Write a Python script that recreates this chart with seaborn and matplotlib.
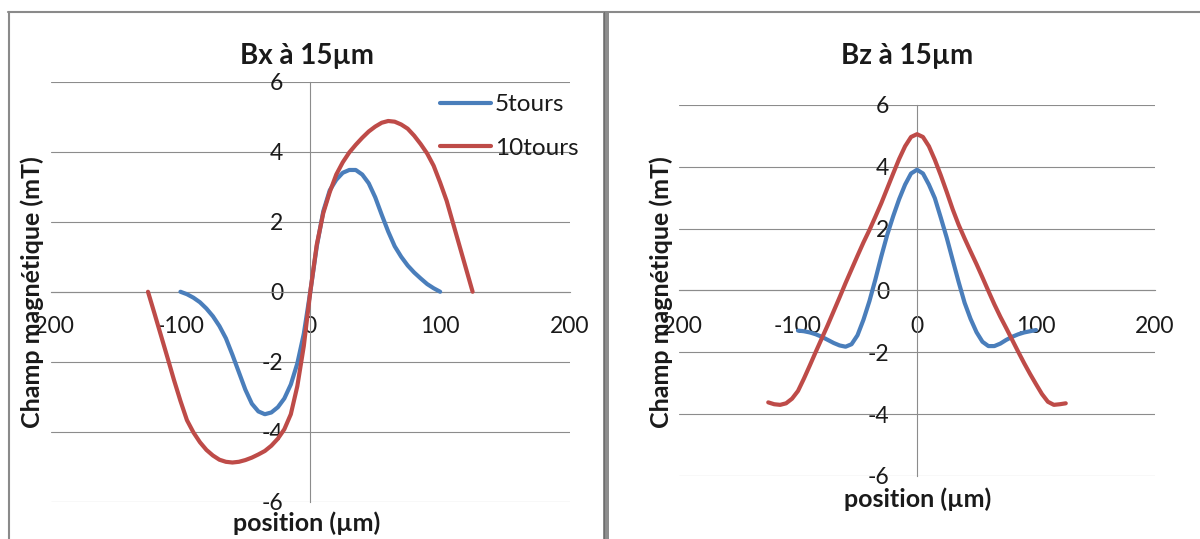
import matplotlib
matplotlib.use("Agg")
import matplotlib.pyplot as plt
import seaborn as sns
import pandas as pd
from matplotlib.lines import Line2D
from matplotlib.patches import Rectangle

# ---- data: field profiles at 15 µm above the coil -------------------------
series_names = ["5tours", "10tours"]

pos_5 = [-100, -95, -90, -85, -80, -75, -70, -65, -60, -55, -50, -45, -40,
         -35, -30, -25, -20, -15, -10, -5, 0, 5, 10, 15, 20, 25, 30, 35, 40,
         45, 50, 55, 60, 65, 70, 75, 80, 85, 90, 95, 100]
pos_10 = [-125, -120, -115, -110, -105, -100, -95, -90, -85, -80, -75, -70,
          -65, -60, -55, -50, -45, -40, -35, -30, -25, -20, -15, -10, -5, 0,
          5, 10, 15, 20, 25, 30, 35, 40, 45, 50, 55, 60, 65, 70, 75, 80, 85,
          90, 95, 100, 105, 110, 115, 120, 125]

bx_5 = [0.0, -0.07, -0.17, -0.30, -0.48, -0.70, -0.98, -1.33, -1.80, -2.30,
        -2.80, -3.20, -3.42, -3.50, -3.45, -3.30, -3.05, -2.65, -2.05, -1.20,
        0.0, 1.30, 2.30, 2.90, 3.20, 3.40, 3.48, 3.48, 3.35, 3.10, 2.70, 2.20,
        1.72, 1.30, 1.00, 0.75, 0.55, 0.38, 0.22, 0.10, 0.0]
bx_10 = [0.0, -0.62, -1.25, -1.88, -2.52, -3.12, -3.67, -4.02, -4.30, -4.52,
         -4.68, -4.80, -4.86, -4.88, -4.86, -4.81, -4.74, -4.65, -4.55, -4.40,
         -4.20, -3.93, -3.50, -2.70, -1.55, 0.0, 1.35, 2.25, 2.85, 3.35, 3.70,
         3.98, 4.20, 4.40, 4.58, 4.72, 4.83, 4.88, 4.86, 4.78, 4.66, 4.46,
         4.22, 3.95, 3.60, 3.12, 2.60, 1.95, 1.30, 0.65, 0.0]

bz_5 = [-1.30, -1.32, -1.36, -1.42, -1.50, -1.60, -1.70, -1.78, -1.82, -1.74,
        -1.45, -0.95, -0.35, 0.35, 1.10, 1.80, 2.40, 2.95, 3.42, 3.78, 3.90,
        3.78, 3.42, 2.98, 2.35, 1.70, 0.98, 0.27, -0.40, -0.92, -1.35, -1.66,
        -1.80, -1.80, -1.72, -1.60, -1.50, -1.42, -1.36, -1.32, -1.28]
bz_10 = [-3.62, -3.68, -3.70, -3.65, -3.50, -3.25, -2.85, -2.42, -1.98, -1.55,
         -1.12, -0.67, -0.22, 0.24, 0.68, 1.12, 1.55, 1.95, 2.38, 2.82, 3.30,
         3.78, 4.25, 4.66, 4.96, 5.05, 4.96, 4.66, 4.22, 3.72, 3.18, 2.62,
         2.12, 1.68, 1.26, 0.85, 0.42, -0.02, -0.45, -0.85, -1.22, -1.60,
         -1.98, -2.35, -2.70, -3.03, -3.35, -3.60, -3.70, -3.68, -3.65]

x_ticks = [-200, -100, 0, 100, 200]
x_tick_labels = ["-200", "-100", "0", "100", "200"]
y_ticks = [-6, -4, -2, 0, 2, 4, 6]
y_tick_labels = ["-6", "-4", "-2", "0", "2", "4", "6"]

titles = ["Bx à 15µm", "Bz à 15µm"]
x_label = "position (µm)"
y_label = "Champ magnétique (mT)"


def long_table(values_5, values_10):
    return pd.DataFrame({
        "position": pos_5 + pos_10,
        "champ": values_5 + values_10,
        "série": [series_names[0]] * len(pos_5) + [series_names[1]] * len(pos_10),
    })


# ---- style ------------------------------------------------------------------
sns.set_theme(style="white")
plt.rcParams["font.family"] = ["Lato", "DejaVu Sans"]
plt.rcParams["axes.unicode_minus"] = False

palette = {"5tours": "#4A7EBB", "10tours": "#BE4B48"}
grid_color = "#8c8c8c"
text_color = "#1a1a1a"

W, H = 1200, 539
fig = plt.figure(figsize=(W / 100, H / 100), dpi=100)
fig.patch.set_facecolor("white")


def px_axes(x0, x1, ytop, ybot):
    return fig.add_axes([x0 / W, 1 - ybot / H, (x1 - x0) / W, (ybot - ytop) / H])


def draw_panel(ax, df, ypad, xpad, ylab_xy, xlab_xy, legend):
    sns.lineplot(data=df, x="position", y="champ", hue="série",
                 hue_order=series_names, palette=palette, sort=False,
                 estimator=None, linewidth=3.0, ax=ax, legend=legend)
    for line in ax.lines:
        line.set_solid_joinstyle("round")
        line.set_solid_capstyle("round")
    ax.set_xlim(-200, 200)
    ax.set_ylim(-6, 6)
    ax.set_xticks(x_ticks)
    ax.set_xticklabels(x_tick_labels)
    ax.set_yticks(y_ticks)
    ax.set_yticklabels(y_tick_labels)
    ax.set_axisbelow(True)
    ax.grid(axis="y", color=grid_color, linewidth=0.8)
    ax.grid(axis="x", visible=False)
    ax.set_facecolor("none")
    for side in ("top", "right"):
        ax.spines[side].set_visible(False)
    for side in ("left", "bottom"):
        ax.spines[side].set_position(("data", 0))
        ax.spines[side].set_color(grid_color)
        ax.spines[side].set_linewidth(0.8)
        ax.spines[side].set_zorder(1.5)
    ax.tick_params(axis="both", length=0, labelsize=16.5, colors=text_color)
    ax.tick_params(axis="y", pad=ypad)
    ax.tick_params(axis="x", pad=xpad)

    ax.set_ylabel(y_label, fontsize=18, fontweight="bold", color=text_color)
    ax.yaxis.label.set_verticalalignment("baseline")
    ax.yaxis.set_label_coords(*ylab_xy)
    ax.set_xlabel(x_label, fontsize=18, fontweight="bold", color=text_color)
    ax.xaxis.label.set_verticalalignment("baseline")
    ax.xaxis.set_label_coords(*xlab_xy)


# left panel: Bx
ax1 = px_axes(50.6, 570, 81.8, 501.7)
draw_panel(ax1, long_table(bx_5, bx_10), ypad=19.5, xpad=17.6,
           ylab_xy=(-0.0204, 0.4994), xlab_xy=(0.4937, -0.0698), legend=True)
handles, labels = ax1.get_legend_handles_labels()
leg = ax1.legend(handles, labels, loc="upper left",
                 bbox_to_anchor=(440 / W, 1 - 94 / H), bbox_transform=fig.transFigure,
                 frameon=False, borderpad=0, borderaxespad=0, fontsize=17.5,
                 handlelength=2.1, handletextpad=0.15, labelspacing=0.93,
                 labelcolor=text_color)
for h in leg.get_lines():
    h.set_linewidth(3.0)

# right panel: Bz
ax2 = px_axes(679, 1155, 104.8, 476)
draw_panel(ax2, long_table(bz_5, bz_10), ypad=20, xpad=18.3,
           ylab_xy=(-0.020, 0.4957), xlab_xy=(0.502, -0.0835), legend=False)

# panel titles
fig.text(307 / W, 1 - 64 / H, titles[0], ha="center", va="baseline",
         fontsize=20, fontweight="bold", color=text_color)
fig.text(907 / W, 1 - 64 / H, titles[1], ha="center", va="baseline",
         fontsize=20, fontweight="bold", color=text_color)

# chart frames
frame_color = "#8a8a8a"
fig.add_artist(Line2D([8 / W, 1], [1 - 12 / H, 1 - 12 / H],
                      transform=fig.transFigure, color=frame_color, linewidth=1.5))
fig.add_artist(Line2D([9 / W, 9 / W], [0, 1 - 12 / H],
                      transform=fig.transFigure, color=frame_color, linewidth=1.5))
fig.add_artist(Rectangle((603 / W, 0), 6 / W, 1 - 12 / H,
                         transform=fig.transFigure, facecolor="#8e8e8e",
                         edgecolor="none"))
fig.add_artist(Line2D([603.5 / W, 603.5 / W], [0, 1 - 12 / H],
                      transform=fig.transFigure, color="#6e6e6e", linewidth=0.8))

fig.savefig("out.png", dpi=100, facecolor="white")
